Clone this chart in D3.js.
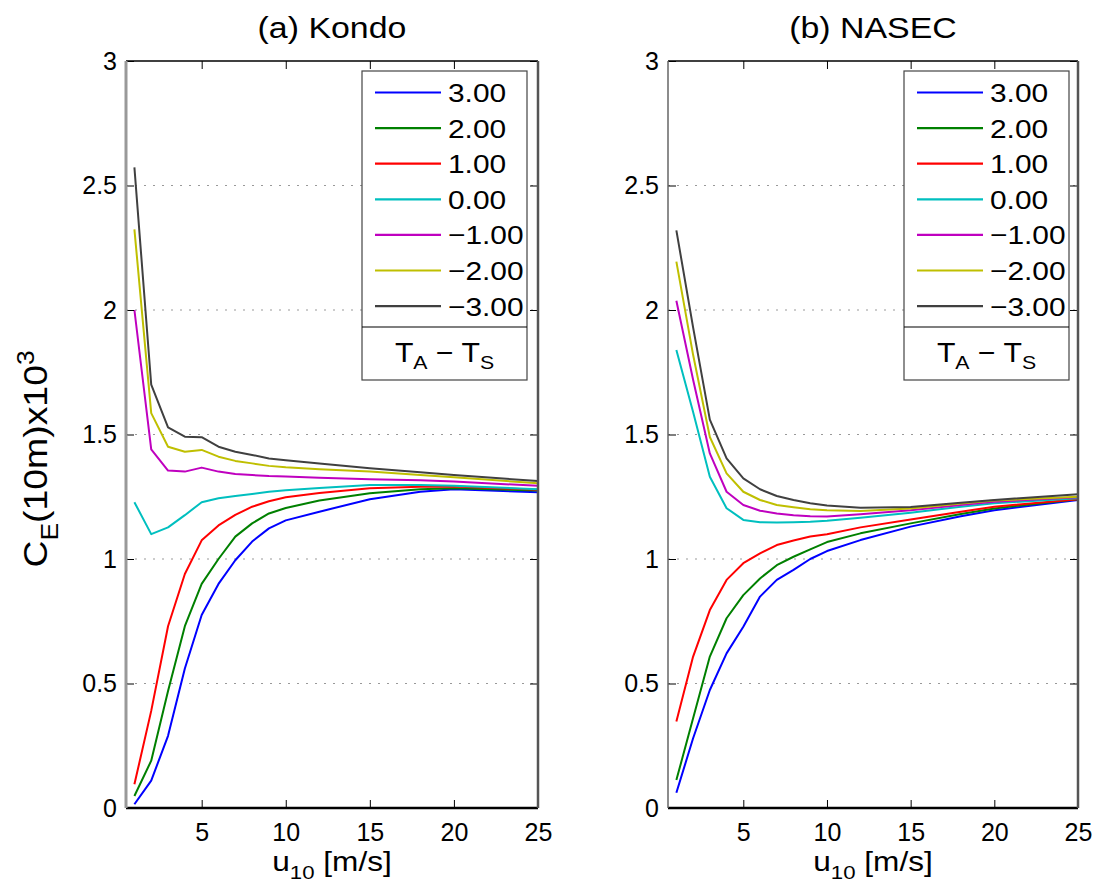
<!DOCTYPE html>
<html><head><meta charset="utf-8">
<script src="https://cdn.jsdelivr.net/npm/d3@7"></script>
<style>body{margin:0;background:#fff}svg{display:block}text{font-family:"Liberation Sans",Arial,Helvetica,sans-serif}</style>
</head><body><svg id="c" width="1101" height="887"></svg>
<script>
// ---- data ----
const seriesLabels = ["3.00","2.00","1.00","0.00","\u22121.00","\u22122.00","\u22123.00"];
const seriesColors = ["#0000ff","#008000","#ff0000","#00bfbf","#bf00bf","#bfbf00","#404040"];
const xTicks = [5,10,15,20,25];
const yTicks = [0,0.5,1,1.5,2,2.5,3];
const yTickLabels = ["0","0.5","1","1.5","2","2.5","3"];
const gridVals = [0.5,1,1.5,2,2.5];

const uKondo = [1,2,3,4,5,6,7,8,9,10,12,15,18,20,25];
const kondoP3 = [0.015,0.11,0.29,0.56,0.775,0.90,0.995,1.07,1.123,1.155,1.19,1.24,1.27,1.28,1.268];
const kondoP2 = [0.048,0.19,0.47,0.73,0.90,1.0,1.09,1.143,1.183,1.205,1.235,1.264,1.28,1.284,1.275];
const kondoP1 = [0.095,0.39,0.73,0.94,1.075,1.135,1.177,1.21,1.232,1.248,1.265,1.284,1.29,1.291,1.278];
const kondo0  = [1.228,1.10,1.127,1.176,1.228,1.244,1.253,1.261,1.27,1.276,1.285,1.297,1.297,1.294,1.28];
const kondoM1 = [2.0,1.44,1.355,1.351,1.367,1.351,1.341,1.337,1.333,1.331,1.326,1.32,1.316,1.311,1.294];
const kondoM2 = [2.324,1.586,1.451,1.431,1.438,1.411,1.394,1.384,1.374,1.368,1.36,1.351,1.337,1.328,1.304];
const kondoM3 = [2.573,1.70,1.529,1.491,1.489,1.451,1.431,1.418,1.404,1.397,1.384,1.364,1.348,1.337,1.313];

const uNasec = [1,2,3,4,5,6,7,8,9,10,12,15,18,20,25];
const nasecP3 = [0.061,0.28,0.474,0.621,0.728,0.849,0.916,0.956,1.0,1.032,1.076,1.13,1.172,1.196,1.237];
const nasecP2 = [0.112,0.36,0.608,0.762,0.855,0.922,0.975,1.009,1.039,1.068,1.103,1.143,1.181,1.203,1.24];
const nasecP1 = [0.347,0.608,0.795,0.916,0.983,1.023,1.056,1.074,1.09,1.099,1.127,1.159,1.19,1.21,1.24];
const nasec0  = [1.839,1.59,1.33,1.204,1.157,1.148,1.147,1.148,1.15,1.154,1.166,1.186,1.21,1.224,1.244];
const nasecM1 = [2.037,1.72,1.424,1.27,1.217,1.194,1.183,1.176,1.172,1.171,1.18,1.196,1.217,1.23,1.248];
const nasecM2 = [2.194,1.82,1.49,1.344,1.27,1.237,1.217,1.208,1.2,1.196,1.193,1.203,1.223,1.235,1.25];
const nasecM3 = [2.32,1.93,1.56,1.404,1.324,1.28,1.253,1.237,1.224,1.215,1.206,1.209,1.226,1.237,1.26];

const panels = [
  {title:"(a) Kondo", u:uKondo, series:[kondoP3,kondoP2,kondoP1,kondo0,kondoM1,kondoM2,kondoM3], x0:126, x1:538},
  {title:"(b) NASEC", u:uNasec, series:[nasecP3,nasecP2,nasecP1,nasec0,nasecM1,nasecM2,nasecM3], x0:668, x1:1078}
];

// ---- drawing ----
const svg = d3.select("#c");
const yTop = 61, yBot = 808;
const y = d3.scaleLinear().domain([0,3]).range([yBot,yTop]);

function stext(parent, x, yy, sx, size, anchor, rot){
  const tr = `translate(${x},${yy})` + (rot ? ` rotate(${rot})` : "") + ` scale(${sx},1)`;
  return parent.append("text").attr("transform",tr).attr("text-anchor",anchor).attr("font-size",size);
}

panels.forEach((p,pi)=>{
  const x = d3.scaleLinear().domain([0.5,25]).range([p.x0,p.x1]);
  const g = svg.append("g");
  // grid
  g.selectAll(".grid").data(gridVals).enter().append("line")
    .attr("x1",p.x0).attr("x2",p.x1).attr("y1",d=>y(d)).attr("y2",d=>y(d))
    .attr("stroke","#999").attr("stroke-width",1).attr("stroke-dasharray","2,7");
  // lines
  const line = d3.line().x((d,i)=>x(p.u[i])).y(d=>y(d));
  p.series.forEach((s,si)=>{
    g.append("path").datum(s).attr("d",line).attr("fill","none")
      .attr("stroke",seriesColors[si]).attr("stroke-width",2).attr("stroke-linejoin","round");
  });
  // axes
  const ax = d3.axisBottom(x).tickValues(xTicks).tickSizeInner(-8).tickSizeOuter(0).tickPadding(15);
  const axG = g.append("g").attr("transform",`translate(0,${yBot})`).call(ax);
  axG.select(".domain").remove();
  axG.selectAll("text").attr("font-size",25).attr("fill","#000");
  axG.selectAll("line").attr("stroke","#000");
  const axT = d3.axisTop(x).tickValues(xTicks).tickSizeInner(-8).tickSizeOuter(0).tickFormat("");
  const axTG = g.append("g").attr("transform",`translate(0,${yTop})`).call(axT);
  axTG.select(".domain").remove();
  const ay = d3.axisLeft(y).tickValues(yTicks).tickSizeInner(-8).tickSizeOuter(0).tickPadding(9)
    .tickFormat((d,i)=>yTickLabels[i]);
  const ayG = g.append("g").attr("transform",`translate(${p.x0},0)`).call(ay);
  ayG.select(".domain").remove();
  ayG.selectAll("text").attr("font-size",25).attr("fill","#000");
  const ayR = d3.axisRight(y).tickValues(yTicks).tickSizeInner(-8).tickSizeOuter(0).tickFormat("");
  const ayRG = g.append("g").attr("transform",`translate(${p.x1},0)`).call(ayR);
  ayRG.select(".domain").remove();
  // box
  g.append("line").attr("x1",p.x0).attr("x2",p.x1).attr("y1",yTop).attr("y2",yTop).attr("stroke","#000").attr("stroke-width",1.5);
  g.append("line").attr("x1",p.x0).attr("x2",p.x1).attr("y1",yBot).attr("y2",yBot).attr("stroke","#000").attr("stroke-width",2.5);
  g.append("line").attr("x1",p.x0).attr("x2",p.x0).attr("y1",yTop).attr("y2",yBot)
    .attr("stroke",pi===0?"#999":"#666").attr("stroke-width",pi===0?3:1.5);
  g.append("line").attr("x1",p.x1).attr("x2",p.x1).attr("y1",yTop).attr("y2",yBot).attr("stroke","#555").attr("stroke-width",2.5);
  // title
  stext(g,(p.x0+p.x1)/2,38,1.13,30,"middle").text(p.title);
  // x label
  const xl = stext(g,(p.x0+p.x1)/2,871,1.17,27,"middle");
  xl.append("tspan").text("u");
  xl.append("tspan").attr("font-size",19).attr("dy",8).text("10");
  xl.append("tspan").attr("dy",-8).text(" [m/s]");
  // legend
  const lx0 = p.x0 + 236, lx1 = p.x0 + 401, ly0 = 71, lySep = 327, ly1 = 380;
  g.append("rect").attr("x",lx0).attr("y",ly0).attr("width",lx1-lx0).attr("height",ly1-ly0)
    .attr("fill","#fff").attr("stroke","#444").attr("stroke-width",1.2);
  g.append("line").attr("x1",lx0).attr("x2",lx1).attr("y1",lySep).attr("y2",lySep).attr("stroke","#000").attr("stroke-width",1.2);
  seriesLabels.forEach((lab,i)=>{
    const yy = 92.5 + i*35.6;
    g.append("line").attr("x1",lx0+13).attr("x2",lx0+79).attr("y1",yy).attr("y2",yy)
      .attr("stroke",seriesColors[i]).attr("stroke-width",2.2);
    stext(g,lx0+86,yy+9.5,1.15,26,"start").text(lab);
  });
  const lt = stext(g,(lx0+lx1)/2,362,1.12,27,"middle");
  lt.append("tspan").text("T");
  lt.append("tspan").attr("font-size",19).attr("dy",7).text("A");
  lt.append("tspan").attr("dy",-7).text(" \u2212 T");
  lt.append("tspan").attr("font-size",19).attr("dy",7).text("S");
});

// y label
const yl = stext(svg,47,459,1.1,34,"middle",-90);
yl.append("tspan").text("C");
yl.append("tspan").attr("font-size",24).attr("dy",11).text("E");
yl.append("tspan").attr("dy",-11).text("(10m)x10");
yl.append("tspan").attr("font-size",24).attr("dy",-13).text("3");
</script></body></html>
